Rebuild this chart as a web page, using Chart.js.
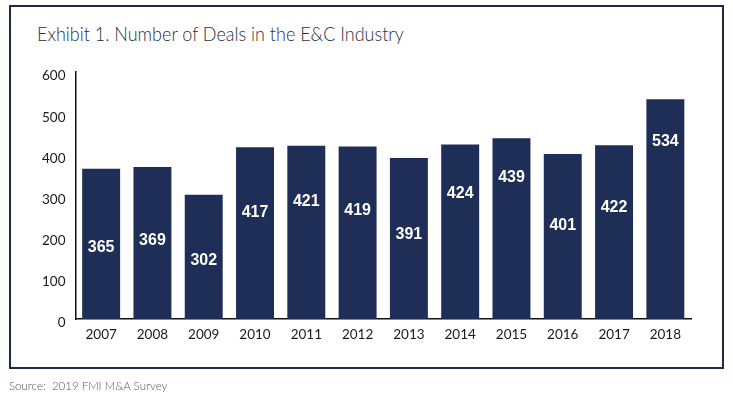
<!DOCTYPE html>
<html>
<head>
<meta charset="utf-8">
<script src="https://cdn.jsdelivr.net/npm/chart.js@4.4.1/dist/chart.umd.min.js"></script>
<style>
  body { margin: 0; background: #fff; }
  .wrap { position: relative; width: 733px; height: 398px; overflow: hidden; }
  .frame {
    position: absolute; left: 9px; top: 5px; width: 711px; height: 360px;
    border: 2px solid #1b2c44;
  }
  .title {
    position: absolute; left: 37px; top: 21px;
    font-family: Lato, "Open Sans", sans-serif; font-weight: 300;
    font-size: 20px; color: #2e2e3a; white-space: nowrap;
    transform: scaleX(0.9); transform-origin: left top;
  }
  .source {
    position: absolute; left: 9px; top: 379px;
    font-family: Lato, "Open Sans", sans-serif; font-weight: 300;
    font-size: 11.5px; color: #555; white-space: nowrap;
  }
  canvas { position: absolute; left: 0; top: 0; }
</style>
</head>
<body>
<div class="wrap">
  <div class="frame"></div>
  <div class="title">Exhibit 1. Number of Deals in the E&amp;C Industry</div>
  <canvas id="myChart" width="733" height="398"></canvas>
  <div class="source">Source:&nbsp; 2019 FMI M&amp;A Survey</div>
</div>
<script>
const years = ["2007", "2008", "2009", "2010", "2011", "2012", "2013", "2014", "2015", "2016", "2017", "2018"];
const deals = [365, 369, 302, 417, 421, 419, 391, 424, 439, 401, 422, 534];
const yTicks = [0, 100, 200, 300, 400, 500, 600];

// высота подписи внутри столбца (в единицах оси y), как на оригинале
const labelAt = [174, 191, 143, 258, 285, 263, 204, 304, 344, 226, 270, 430];

const barLabels = {
    id: "barLabels",
    afterDatasetsDraw(chart) {
        const ctx = chart.ctx;
        const y = chart.scales.y;
        const meta = chart.getDatasetMeta(0);
        ctx.save();
        ctx.fillStyle = "#fff";
        ctx.font = "bold 16px 'Liberation Sans', Arial, sans-serif";
        ctx.textAlign = "center";
        ctx.textBaseline = "middle";
        meta.data.forEach((bar, i) => {
            ctx.fillText(String(deals[i]), bar.x, y.getPixelForValue(labelAt[i]));
        });
        ctx.restore();
    }
};

let ctx = document.getElementById("myChart").getContext("2d");
let chart = new Chart(ctx, {
    type: "bar",
    data: {
        labels: years,
        datasets: [{
            data: deals,
            backgroundColor: "#1e2e57",
            borderWidth: 0,
            barPercentage: 0.74,
            categoryPercentage: 1
        }]
    },
    options: {
        responsive: false,
        animation: false,
        layout: {
            padding: { left: 35.5, right: 42, top: 72, bottom: 49 }
        },
        plugins: {
            legend: false,
            title: { display: false },
            tooltip: { enabled: false }
        },
        scales: {
            x: {
                afterFit: s => { s.height = 30; },
                grid: { display: false, drawTicks: false },
                border: { display: true, color: "#111", width: 1.5 },
                ticks: {
                    padding: 8,
                    color: "#1a1a1a",
                    font: { family: "Lato, 'Open Sans', sans-serif", size: 13.5 }
                }
            },
            y: {
                min: 0,
                max: 600,
                afterFit: s => { s.width = 40; },
                afterBuildTicks: s => { s.ticks = yTicks.map(v => ({ value: v })); },
                grid: { display: false, drawTicks: false },
                border: { display: true, color: "#111", width: 1.5 },
                ticks: {
                    padding: 10,
                    labelOffset: 4,
                    color: "#1a1a1a",
                    font: { family: "Lato, 'Open Sans', sans-serif", size: 13.5 }
                }
            }
        }
    },
    plugins: [barLabels]
});
</script>
</body>
</html>
